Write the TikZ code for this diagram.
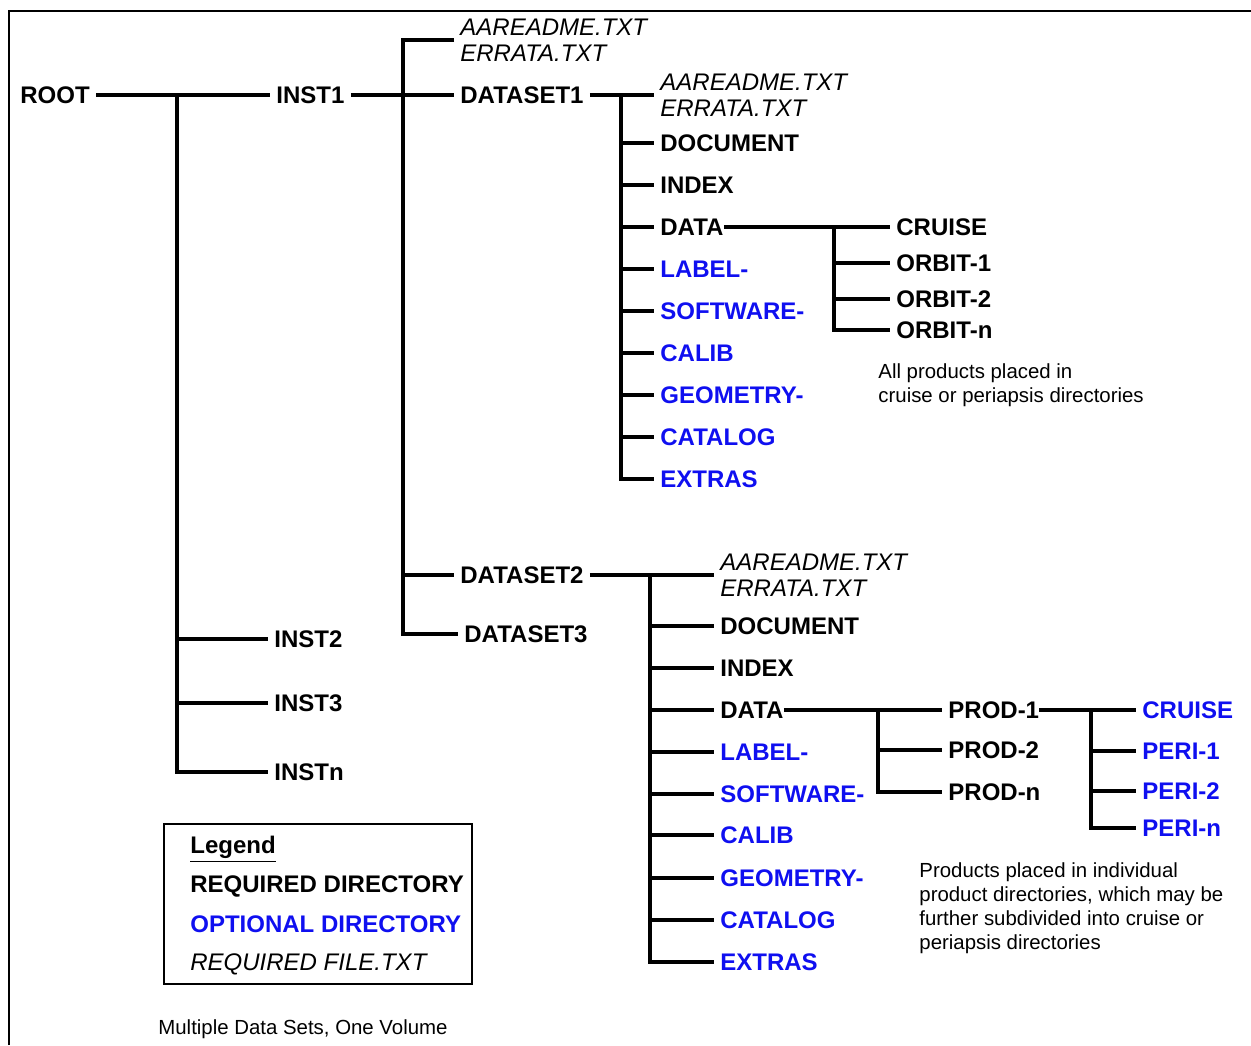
\documentclass[tikz,border=0pt]{standalone}
\usepackage{fontspec}
\setmainfont{Liberation Sans}
\definecolor{optblue}{RGB}{15,15,240}

\begin{document}
\begin{tikzpicture}[x=0.5pt,y=-0.5pt]
\tikzset{req/.style={anchor=west, inner xsep=3pt, inner ysep=0pt, text height=8.6pt, text depth=0pt, font=\fontsize{12}{14}\selectfont\bfseries},
opt/.style={req, text=optblue},
fichier/.style={anchor=west, inner xsep=3pt, inner ysep=0pt, align=left, font=\fontsize{12}{13}\selectfont\itshape},
remarque/.style={anchor=west, inner sep=0pt, align=left, font=\fontsize{10.2}{12}\selectfont},
lien/.style={line width=1.6pt}}
\useasboundingbox (0,0) rectangle (1251,1045);
\draw[line width=0.7pt] (9,1045) -- (9,11) -- (1251,11);
\node[req] (R) at (14,95) {ROOT};
\node[req] (I1) at (270,95) {INST1};
\node[req] (I2) at (268,639) {INST2};
\node[req] (I3) at (268,703) {INST3};
\node[req] (In) at (268,772) {INSTn};
\node[fichier] (F0) at (454,40) {AAREADME.TXT\\ERRATA.TXT};
\node[req] (DS1) at (454,95) {DATASET1};
\node[req] (DS2) at (454,575) {DATASET2};
\node[req] (DS3) at (458,634) {DATASET3};
\node[fichier] (F1) at (654,95) {AAREADME.TXT\\ERRATA.TXT};
\node[req] (doc1) at (654,143) {DOCUMENT};
\node[req] (idx1) at (654,185) {INDEX};
\node[req] (dat1) at (654,227) {DATA};
\node[opt] (lab1) at (654,269) {LABEL-};
\node[opt] (sw1) at (654,311) {SOFTWARE-};
\node[opt] (cal1) at (654,353) {CALIB};
\node[opt] (geo1) at (654,395) {GEOMETRY-};
\node[opt] (cat1) at (654,437) {CATALOG};
\node[opt] (ext1) at (654,479) {EXTRAS};
\node[req] (cr1) at (890,227) {CRUISE};
\node[req] (ob1) at (890,263) {ORBIT-1};
\node[req] (ob2) at (890,299) {ORBIT-2};
\node[req] (obn) at (890,330) {ORBIT-n};
\node[remarque] (note1) at (878,385) {All products placed in\\cruise or periapsis directories};
\node[fichier] (F2) at (714,575) {AAREADME.TXT\\ERRATA.TXT};
\node[req] (doc2) at (714,626) {DOCUMENT};
\node[req] (idx2) at (714,668) {INDEX};
\node[req] (dat2) at (714,710) {DATA};
\node[opt] (lab2) at (714,752) {LABEL-};
\node[opt] (sw2) at (714,794) {SOFTWARE-};
\node[opt] (cal2) at (714,835) {CALIB};
\node[opt] (geo2) at (714,878) {GEOMETRY-};
\node[opt] (cat2) at (714,920) {CATALOG};
\node[opt] (ext2) at (714,962) {EXTRAS};
\node[req] (p1) at (942,710) {PROD-1};
\node[req] (p2) at (942,750) {PROD-2};
\node[req] (pn) at (942,792) {PROD-n};
\node[opt] (cr2) at (1136,710) {CRUISE};
\node[opt] (pe1) at (1136,751) {PERI-1};
\node[opt] (pe2) at (1136,791) {PERI-2};
\node[opt] (pen) at (1136,828) {PERI-n};
\node[remarque] (note2) at (919,908) {Products placed in individual\\product directories, which may be\\further subdivided into cruise or\\periapsis directories};
\coordinate (J0) at (177,95);
\coordinate (J1) at (403,95);
\coordinate (J2) at (621,95);
\coordinate (J3) at (834,227);
\coordinate (J4) at (650,575);
\coordinate (J5) at (878,710);
\coordinate (J6) at (1091,710);
\draw[lien] (R) -- (I1);
\draw[lien] (J0) |- (In);
\draw[lien] (J0|-I2) -- (I2);
\draw[lien] (J0|-I3) -- (I3);
\draw[lien] (I1) -- (DS1);
\draw[lien] (F0) -| (J1) |- (DS3);
\draw[lien] (J1|-DS2) -- (DS2);
\draw[lien] (DS1) -- (F1);
\draw[lien] (J2) |- (ext1);
\draw[lien] (J2|-doc1) -- (doc1);
\draw[lien] (J2|-idx1) -- (idx1);
\draw[lien] (J2|-dat1) -- (dat1);
\draw[lien] (J2|-lab1) -- (lab1);
\draw[lien] (J2|-sw1) -- (sw1);
\draw[lien] (J2|-cal1) -- (cal1);
\draw[lien] (J2|-geo1) -- (geo1);
\draw[lien] (J2|-cat1) -- (cat1);
\draw[lien] ([xshift=-3pt]dat1.east) -- (cr1);
\draw[lien] (J3) |- (obn);
\draw[lien] (J3|-ob1) -- (ob1);
\draw[lien] (J3|-ob2) -- (ob2);
\draw[lien] (DS2) -- (F2);
\draw[lien] (J4) |- (ext2);
\draw[lien] (J4|-doc2) -- (doc2);
\draw[lien] (J4|-idx2) -- (idx2);
\draw[lien] (J4|-dat2) -- (dat2);
\draw[lien] (J4|-lab2) -- (lab2);
\draw[lien] (J4|-sw2) -- (sw2);
\draw[lien] (J4|-cal2) -- (cal2);
\draw[lien] (J4|-geo2) -- (geo2);
\draw[lien] (J4|-cat2) -- (cat2);
\draw[lien] ([xshift=-3pt]dat2.east) -- (p1);
\draw[lien] (J5) |- (pn);
\draw[lien] (J5|-p2) -- (p2);
\draw[lien] ([xshift=-3pt]p1.east) -- (cr2);
\draw[lien] (J6) |- (pen);
\draw[lien] (J6|-pe1) -- (pe1);
\draw[lien] (J6|-pe2) -- (pe2);
\draw[line width=0.8pt] (164,824) rectangle (472,984);
\node[req] (L0) at (184,845) {\underline{Legend}};
\node[req] (L1) at (184,884) {REQUIRED DIRECTORY};
\node[opt] (L2) at (184,924) {OPTIONAL DIRECTORY};
\node[fichier] (L3) at (184,964) {REQUIRED FILE.TXT};
\node[remarque] (cap) at (158,1029) {Multiple Data Sets, One Volume};
\end{tikzpicture}
\end{document}
